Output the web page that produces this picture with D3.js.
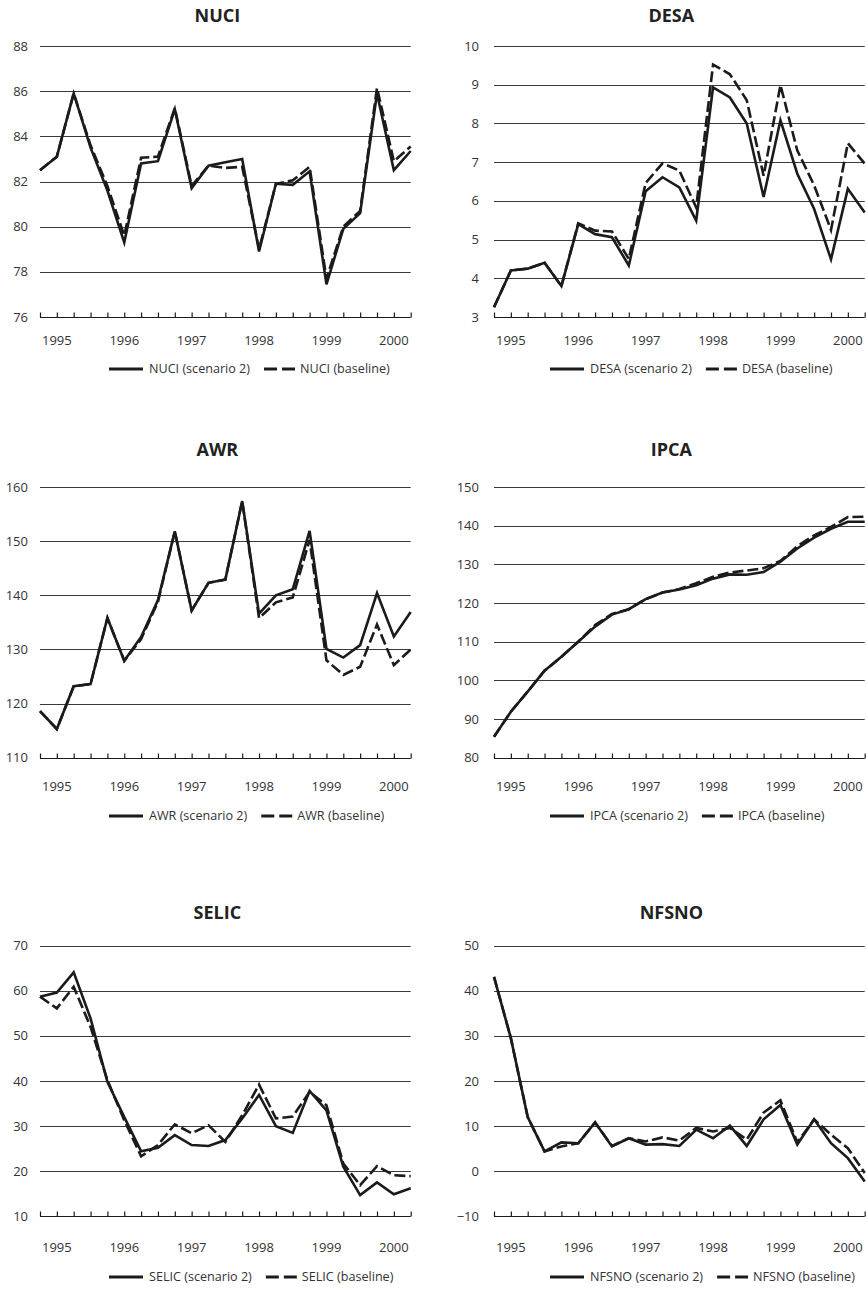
<!DOCTYPE html>
<html>
<head>
<meta charset="utf-8">
<script src="https://cdn.jsdelivr.net/npm/d3@7"></script>
<style>
  html, body { margin: 0; padding: 0; background: #fff; }
  svg { display: block; }
  text { font-family: "Open Sans", "Noto Sans", sans-serif; }
</style>
</head>
<body>
<svg id="chart" width="866" height="1289"></svg>
<script>
// Quarterly observations, 1994 Q4 through 2000 Q2
const quarters = [
  "1994Q4",
  "1995Q1", "1995Q2", "1995Q3", "1995Q4",
  "1996Q1", "1996Q2", "1996Q3", "1996Q4",
  "1997Q1", "1997Q2", "1997Q3", "1997Q4",
  "1998Q1", "1998Q2", "1998Q3", "1998Q4",
  "1999Q1", "1999Q2", "1999Q3", "1999Q4",
  "2000Q1", "2000Q2"
];
const yearLabels = ["1995", "1996", "1997", "1998", "1999", "2000"];

const nuciScenario2 = [82.5, 83.1, 85.9, 83.5, 81.6, 79.3, 82.8, 82.9, 85.2, 81.7, 82.7, 82.85, 83.0, 78.9, 81.9, 81.85, 82.45, 77.45, 79.9, 80.6, 85.9, 82.5, 83.35];
const nuciBaseline  = [82.5, 83.1, 85.9, 83.6, 81.8, 79.6, 83.05, 83.1, 85.25, 81.8, 82.7, 82.6, 82.65, 79.0, 81.9, 82.05, 82.65, 77.7, 80.0, 80.7, 86.15, 82.9, 83.55];
const nuciTicks = [76, 78, 80, 82, 84, 86, 88];

const desaScenario2 = [3.25, 4.2, 4.25, 4.4, 3.8, 5.4, 5.14, 5.06, 4.33, 6.25, 6.61, 6.35, 5.49, 8.93, 8.67, 8.0, 6.1, 8.08, 6.7, 5.79, 4.49, 6.31, 5.7];
const desaBaseline  = [3.25, 4.2, 4.25, 4.4, 3.8, 5.42, 5.23, 5.21, 4.5, 6.46, 6.97, 6.78, 5.83, 9.52, 9.27, 8.6, 6.65, 8.99, 7.3, 6.4, 5.25, 7.49, 6.96];
const desaTicks = [3, 4, 5, 6, 7, 8, 9, 10];

const awrScenario2 = [118.6, 115.3, 123.2, 123.6, 135.8, 127.9, 132.3, 139.1, 151.8, 137.2, 142.3, 142.9, 157.4, 136.6, 140.0, 141.1, 151.9, 130.1, 128.5, 130.8, 140.4, 132.4, 136.9];
const awrBaseline  = [118.6, 115.3, 123.2, 123.6, 135.8, 127.9, 131.9, 138.8, 151.8, 137.2, 142.3, 142.9, 157.4, 135.8, 138.7, 139.6, 150.2, 128.0, 125.3, 126.8, 134.6, 127.1, 130.0];
const awrTicks = [110, 120, 130, 140, 150, 160];

const ipcaScenario2 = [85.4, 91.9, 97.1, 102.5, 106.1, 110.0, 113.9, 117.0, 118.4, 121.0, 122.7, 123.5, 124.6, 126.3, 127.4, 127.3, 128.0, 130.7, 134.1, 136.9, 139.2, 141.0, 141.0];
const ipcaBaseline  = [85.4, 91.9, 97.1, 102.5, 106.1, 110.0, 114.3, 117.2, 118.4, 121.0, 122.7, 123.6, 125.1, 126.8, 127.9, 128.4, 129.0, 130.9, 134.7, 137.5, 139.7, 142.2, 142.3];
const ipcaTicks = [80, 90, 100, 110, 120, 130, 140, 150];

const selicScenario2 = [58.7, 59.6, 64.1, 53.9, 39.8, 32.0, 24.4, 25.2, 28.0, 25.8, 25.6, 26.9, 31.7, 36.9, 30.0, 28.5, 37.8, 33.5, 21.0, 14.7, 17.5, 14.9, 16.2];
const selicBaseline  = [58.7, 56.1, 60.9, 52.0, 40.2, 31.3, 23.3, 25.8, 30.4, 28.4, 30.2, 26.5, 32.4, 39.2, 31.7, 32.1, 37.6, 34.6, 21.7, 16.9, 21.1, 19.1, 18.9];
const selicTicks = [10, 20, 30, 40, 50, 60, 70];

const nfsnoScenario2 = [43.1, 29.5, 12.0, 4.4, 6.4, 6.2, 10.8, 5.5, 7.3, 5.9, 6.0, 5.6, 9.2, 7.3, 10.1, 5.6, 11.5, 14.7, 5.9, 11.5, 6.2, 2.9, -2.3];
const nfsnoBaseline  = [43.1, 29.5, 12.0, 4.4, 5.5, 6.2, 10.8, 5.6, 7.3, 6.6, 7.5, 6.8, 9.6, 8.8, 9.6, 7.0, 13.0, 15.7, 6.4, 11.5, 8.1, 5.1, -0.4];
const nfsnoTicks = [-10, 0, 10, 20, 30, 40, 50];

const panels = [
  { name: "NUCI",  s2: nuciScenario2,  base: nuciBaseline,  ticks: nuciTicks,  col: 0, row: 0 },
  { name: "DESA",  s2: desaScenario2,  base: desaBaseline,  ticks: desaTicks,  col: 1, row: 0 },
  { name: "AWR",   s2: awrScenario2,   base: awrBaseline,   ticks: awrTicks,   col: 0, row: 1 },
  { name: "IPCA",  s2: ipcaScenario2,  base: ipcaBaseline,  ticks: ipcaTicks,  col: 1, row: 1 },
  { name: "SELIC", s2: selicScenario2, base: selicBaseline, ticks: selicTicks, col: 0, row: 2 },
  { name: "NFSNO", s2: nfsnoScenario2, base: nfsnoBaseline, ticks: nfsnoTicks, col: 1, row: 2 }
];

// Grid geometry
const columns = [
  { left: 40,  right: 410.7, labelEnd: 28,  legendX: 109 },
  { left: 494, right: 864.7, labelEnd: 479, legendX: 550 }
];
const rows = [
  { title: 22,  top: 46,    bottom: 317,    years: 340,   legend: 369 },
  { title: 456, top: 487,   bottom: 757.7,  years: 786,   legend: 816 },
  { title: 919, top: 945.7, bottom: 1216.3, years: 1247,  legend: 1277 }
];

const ink = "#1b1b1b";
const svg = d3.select("#chart");

panels.forEach(p => {
  const c = columns[p.col], r = rows[p.row];
  const g = svg.append("g");

  const x = d3.scalePoint().domain(quarters).range([c.left, c.right]);
  const y = d3.scaleLinear()
    .domain([d3.min(p.ticks), d3.max(p.ticks)])
    .range([r.bottom, r.top]);

  // Title
  g.append("text")
    .attr("x", (c.left + c.right) / 2 - 8)
    .attr("y", r.title)
    .attr("text-anchor", "middle")
    .attr("font-size", 18)
    .attr("font-weight", 700)
    .attr("fill", "#222")
    .text(p.name);

  // Horizontal gridlines
  g.selectAll("line.grid")
    .data(p.ticks.slice(1))
    .join("line")
    .attr("class", "grid")
    .attr("x1", c.left).attr("x2", c.right)
    .attr("y1", d => Math.round(y(d)) + 0.5)
    .attr("y2", d => Math.round(y(d)) + 0.5)
    .attr("stroke", "#3a3a3a")
    .attr("stroke-width", 1);

  // Y tick labels
  g.selectAll("text.ylab")
    .data(p.ticks)
    .join("text")
    .attr("class", "ylab")
    .attr("x", c.labelEnd)
    .attr("y", d => y(d))
    .attr("dy", "0.35em")
    .attr("text-anchor", "end")
    .attr("font-size", 13)
    .attr("fill", "#333")
    .text(d => d3.format("")(d));

  // Bottom axis: quarterly ticks pointing up, no labels
  const xAxis = d3.axisBottom(x)
    .tickSizeInner(-5)
    .tickSizeOuter(0)
    .tickFormat("");
  const ax = g.append("g")
    .attr("transform", `translate(0,${Math.round(r.bottom) + 0.5})`)
    .call(xAxis);
  ax.select(".domain").attr("stroke", ink).attr("stroke-width", 1.2)
    .attr("d", `M${c.left},0H${c.right}`);
  ax.selectAll(".tick line").attr("stroke", ink).attr("stroke-width", 1.2);

  // Year labels at each first quarter
  g.selectAll("text.year")
    .data(yearLabels)
    .join("text")
    .attr("class", "year")
    .attr("x", d => x(d + "Q1"))
    .attr("y", r.years)
    .attr("dy", "0.35em")
    .attr("text-anchor", "middle")
    .attr("font-size", 13)
    .attr("fill", "#333")
    .text(d => d);

  // Series lines
  const line = d3.line()
    .x((d, i) => x(quarters[i]))
    .y(d => y(d));

  g.append("path")
    .datum(p.base)
    .attr("d", line)
    .attr("fill", "none")
    .attr("stroke", ink)
    .attr("stroke-width", 2.6)
    .attr("stroke-dasharray", "11,4")
    .attr("stroke-linejoin", "miter");

  g.append("path")
    .datum(p.s2)
    .attr("d", line)
    .attr("fill", "none")
    .attr("stroke", ink)
    .attr("stroke-width", 2.6)
    .attr("stroke-linejoin", "miter");

  // Legend
  const lg = g.append("g").attr("transform", `translate(${c.legendX},${r.legend})`);
  lg.append("line")
    .attr("x1", 0).attr("x2", 34).attr("y1", 0).attr("y2", 0)
    .attr("stroke", ink).attr("stroke-width", 3);
  const t1 = lg.append("text")
    .attr("x", 40).attr("y", 0).attr("dy", "0.35em")
    .attr("font-size", 12.6).attr("fill", "#333")
    .text(`${p.name} (scenario 2)`);
  const x2 = 40 + t1.node().getComputedTextLength() + 14;
  lg.append("line")
    .attr("x1", x2).attr("x2", x2 + 31).attr("y1", 0).attr("y2", 0)
    .attr("stroke", ink).attr("stroke-width", 3)
    .attr("stroke-dasharray", "13,5");
  lg.append("text")
    .attr("x", x2 + 36).attr("y", 0).attr("dy", "0.35em")
    .attr("font-size", 12.6).attr("fill", "#333")
    .text(`${p.name} (baseline)`);
});
</script>
</body>
</html>
